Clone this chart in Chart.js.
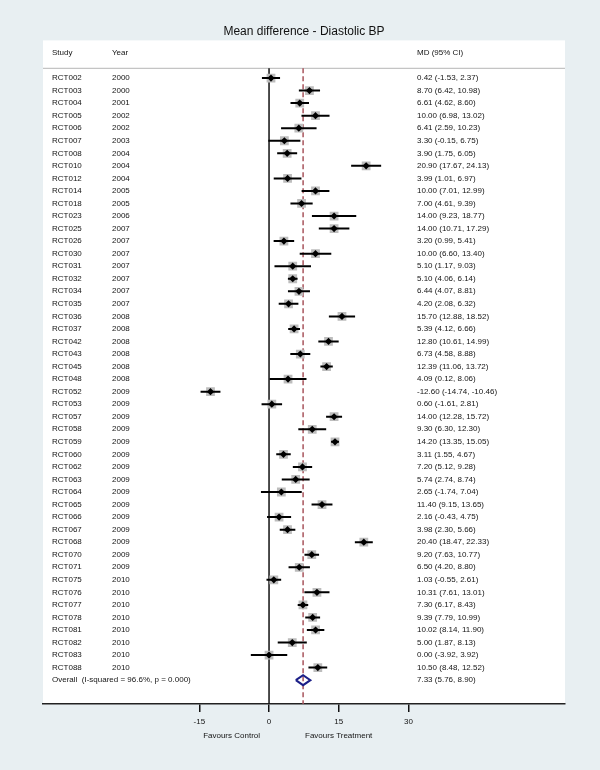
<!DOCTYPE html>
<html>
<head>
<meta charset="utf-8">
<title>Mean difference - Diastolic BP</title>
<script src="https://cdn.jsdelivr.net/npm/chart.js@4.4.1/dist/chart.umd.min.js"></script>
<style>
  html, body { margin: 0; padding: 0; background: #e8eff2; }
  #wrap { width: 600px; height: 770px; position: relative; }
</style>
</head>
<body>
<div id="wrap"><canvas id="forest"></canvas></div>
<script>
// study rows, top to bottom
const studies = ['RCT002','RCT003','RCT004','RCT005','RCT006','RCT007','RCT008','RCT010','RCT012','RCT014',
  'RCT018','RCT023','RCT025','RCT026','RCT030','RCT031','RCT032','RCT034','RCT035','RCT036',
  'RCT037','RCT042','RCT043','RCT045','RCT048','RCT052','RCT053','RCT057','RCT058','RCT059',
  'RCT060','RCT062','RCT063','RCT064','RCT065','RCT066','RCT067','RCT068','RCT070','RCT071',
  'RCT075','RCT076','RCT077','RCT078','RCT081','RCT082','RCT083','RCT088']
const years = [2000,2000,2001,2002,2002,2003,2004,2004,2004,2005,
  2005,2006,2007,2007,2007,2007,2007,2007,2007,2008,
  2008,2008,2008,2008,2008,2009,2009,2009,2009,2009,
  2009,2009,2009,2009,2009,2009,2009,2009,2009,2009,
  2010,2010,2010,2010,2010,2010,2010,2010]
const md = [0.42,8.70,6.61,10.00,6.41,3.30,3.90,20.90,3.99,10.00,
  7.00,14.00,14.00,3.20,10.00,5.10,5.10,6.44,4.20,15.70,
  5.39,12.80,6.73,12.39,4.09,-12.60,0.60,14.00,9.30,14.20,
  3.11,7.20,5.74,2.65,11.40,2.16,3.98,20.40,9.20,6.50,
  1.03,10.31,7.30,9.39,10.02,5.00,0.00,10.50]
const ciLow = [-1.53,6.42,4.62,6.98,2.59,-0.15,1.75,17.67,1.01,7.01,
  4.61,9.23,10.71,0.99,6.60,1.17,4.06,4.07,2.08,12.88,
  4.12,10.61,4.58,11.06,0.12,-14.74,-1.61,12.28,6.30,13.35,
  1.55,5.12,2.74,-1.74,9.15,-0.43,2.30,18.47,7.63,4.20,
  -0.55,7.61,6.17,7.79,8.14,1.87,-3.92,8.48]
const ciHigh = [2.37,10.98,8.60,13.02,10.23,6.75,6.05,24.13,6.97,12.99,
  9.39,18.77,17.29,5.41,13.40,9.03,6.14,8.81,6.32,18.52,
  6.66,14.99,8.88,13.72,8.06,-10.46,2.81,15.72,12.30,15.05,
  4.67,9.28,8.74,7.04,13.65,4.75,5.66,22.33,10.77,8.80,
  2.61,13.01,8.43,10.99,11.90,8.13,3.92,12.52]

const overallLabel = 'Overall  (I-squared = 96.6%, p = 0.000)'
const overallMd = 7.33
const overallLow = 5.76
const overallHigh = 8.90

const xTicks = [-15, 0, 15, 30]
const headers = ['Study', 'Year', 'MD (95% CI)']
const favours = ['Favours Control', 'Favours Treatment']

const FONT = '"Liberation Sans", Arial, Helvetica, sans-serif'
const TEXT = '#141414'
const yMin = -3, yMax = 49.9
const headerRow = -2, headerLineRow = -0.77

const fmt = (v) => v.toFixed(2)
const ciText = (m, lo, hi) => fmt(m) + ' (' + fmt(lo) + ', ' + fmt(hi) + ')'

// CI segments separated by gaps
const ciPoints = []
md.forEach((v, i) => {
    ciPoints.push({x: ciLow[i], y: i}, {x: ciHigh[i], y: i}, {x: ciHigh[i], y: null})
})
const estPoints = md.map((v, i) => ({x: v, y: i}))
const overallRow = studies.length
const diamond = [
    {x: overallLow, y: overallRow},
    {x: overallMd, y: overallRow - 0.4},
    {x: overallHigh, y: overallRow},
    {x: overallMd, y: overallRow + 0.4},
    {x: overallLow, y: overallRow}
]

const panelPlugin = {
    id: 'panel',
    beforeDraw(chart) {
        const {ctx, chartArea: a} = chart
        ctx.save()
        ctx.fillStyle = '#e8eff2'
        ctx.fillRect(0, 0, chart.width, chart.height)
        ctx.fillStyle = '#ffffff'
        ctx.fillRect(a.left, a.top, a.right - a.left, a.bottom - a.top)
        // line under the header
        const yl = chart.scales.y.getPixelForValue(headerLineRow)
        ctx.strokeStyle = '#c4c4c4'
        ctx.lineWidth = 1.2
        ctx.beginPath()
        ctx.moveTo(a.left, yl)
        ctx.lineTo(a.right, yl)
        ctx.stroke()
        ctx.restore()
    },
    afterDraw(chart) {
        const {ctx, chartArea: a} = chart
        const y = chart.scales.y
        const x = chart.scales.x
        const colStudy = a.left + 9, colYear = a.left + 69, colMd = a.left + 374
        ctx.save()
        ctx.fillStyle = TEXT
        ctx.font = '8px ' + FONT
        ctx.textBaseline = 'middle'
        ctx.textAlign = 'left'
        const hy = y.getPixelForValue(headerRow)
        ctx.fillText(headers[0], colStudy, hy)
        ctx.fillText(headers[1], colYear, hy)
        ctx.fillText(headers[2], colMd, hy)
        studies.forEach((s, i) => {
            const py = y.getPixelForValue(i)
            ctx.fillText(s, colStudy, py)
            ctx.fillText(String(years[i]), colYear, py)
            ctx.fillText(ciText(md[i], ciLow[i], ciHigh[i]), colMd, py)
        })
        const oy = y.getPixelForValue(overallRow)
        ctx.fillText(overallLabel, colStudy, oy)
        ctx.fillText(ciText(overallMd, overallLow, overallHigh), colMd, oy)

        // favours labels under the axis
        const zero = x.getPixelForValue(0)
        ctx.textAlign = 'right'
        ctx.fillText(favours[0], zero - 9, 736)
        ctx.textAlign = 'left'
        ctx.fillText(favours[1], zero + 36, 736)
        ctx.restore()
    }
}

new Chart(document.getElementById('forest'), {
    type: 'scatter',
    data: {
        datasets: [
            {
                label: 'estimate',
                data: estPoints,
                pointStyle: 'rectRot',
                pointRadius: 3.6,
                backgroundColor: '#000',
                borderWidth: 0,
                order: 1
            },
            {
                label: 'overall',
                data: diamond,
                showLine: true,
                borderColor: '#1c1f88',
                borderWidth: 2,
                pointRadius: 0,
                tension: 0,
                order: 2
            },
            {
                label: 'ci',
                data: ciPoints,
                showLine: true,
                spanGaps: false,
                borderColor: '#000',
                borderWidth: 2,
                pointRadius: 0,
                order: 3
            },
            {
                label: 'weight',
                data: estPoints,
                pointStyle: 'rect',
                pointRadius: 6.2,
                backgroundColor: '#bdbdbd',
                borderWidth: 0,
                order: 4
            },
            {
                label: 'pooled',
                data: [{x: overallMd, y: headerLineRow}, {x: overallMd, y: yMax}],
                showLine: true,
                borderColor: '#a8545c',
                borderWidth: 1.5,
                borderDash: [5, 3],
                pointRadius: 0,
                order: 5
            },
            {
                label: 'null',
                data: [{x: 0, y: headerLineRow}, {x: 0, y: yMax}],
                showLine: true,
                borderColor: '#111',
                borderWidth: 1.5,
                pointRadius: 0,
                order: 6
            }
        ]
    },
    options: {
        responsive: true,
        maintainAspectRatio: false,
        devicePixelRatio: 1,
        animation: false,
        events: [],
        layout: {
            padding: {left: 43, right: 35, top: 0, bottom: 0}
        },
        plugins: {
            legend: {display: false},
            tooltip: {enabled: false},
            title: {
                display: true,
                text: 'Mean difference - Diastolic BP',
                color: '#111',
                font: {family: FONT, size: 12, weight: 'normal'},
                padding: {top: 24, bottom: 2}
            }
        },
        scales: {
            x: {
                type: 'linear',
                min: -48.65,
                max: 63.7,
                afterBuildTicks: (scale) => {
                    scale.ticks = xTicks.map(v => ({value: v}))
                },
                afterFit: (scale) => {
                    scale.height = 66
                },
                ticks: {
                    color: TEXT,
                    padding: 5,
                    font: {family: FONT, size: 8}
                },
                grid: {
                    drawOnChartArea: false,
                    drawTicks: true,
                    tickLength: 8,
                    color: '#111',
                    lineWidth: 1.5
                },
                border: {display: true, color: '#222', width: 1.5}
            },
            y: {
                type: 'linear',
                display: false,
                reverse: true,
                min: yMin,
                max: yMax
            }
        }
    },
    plugins: [panelPlugin]
})
</script>
</body>
</html>
